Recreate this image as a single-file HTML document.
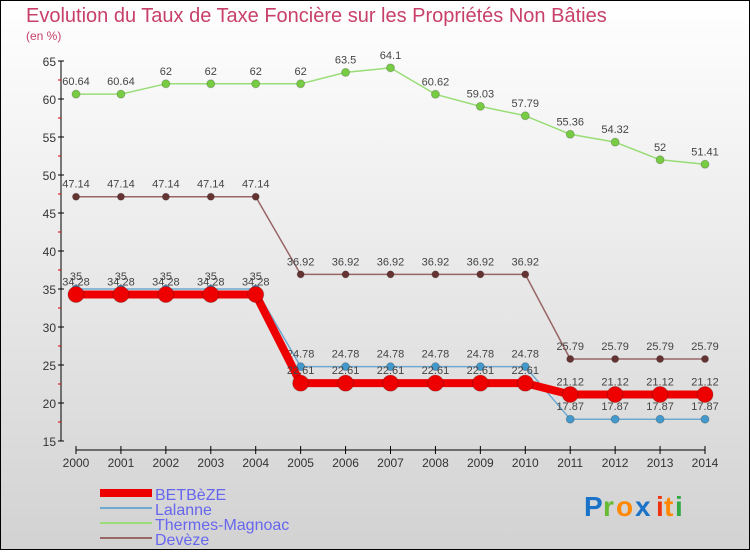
<!DOCTYPE html>
<html><head><meta charset="utf-8"><style>
body{margin:0;}
#c{width:750px;height:550px;position:relative;font-family:"Liberation Sans",sans-serif;}
svg text{font-family:"Liberation Sans",sans-serif;}
</style></head><body>
<div id="c">
<svg id="s" width="750" height="550" xmlns="http://www.w3.org/2000/svg">
<defs><linearGradient id="bg" x1="0" y1="0" x2="0" y2="1"><stop offset="0" stop-color="#ffffff"/><stop offset="1" stop-color="#d2d2d2"/></linearGradient></defs>
<rect x="0.5" y="0.5" width="749" height="549" fill="url(#bg)" stroke="#000"/>
<text x="26" y="22" font-size="20" fill="#c8406a">Evolution du Taux de Taxe Foncière sur les Propriétés Non Bâties</text>
<text x="26" y="40" font-size="12" fill="#c8406a">(en %)</text>
<g id="axes"></g><g id="series"></g>
<g>
<rect x="100" y="489" width="52" height="8" fill="#ee0000"/>
<text x="155" y="500" font-size="16" fill="#6666ee">BETBèZE</text>
<line x1="100" y1="508" x2="152" y2="508" stroke="#6fa8d0" stroke-width="2"/>
<text x="155" y="515" font-size="16" fill="#6666ee">Lalanne</text>
<line x1="100" y1="523" x2="152" y2="523" stroke="#99dd77" stroke-width="2"/>
<text x="155" y="530" font-size="16" fill="#6666ee">Thermes-Magnoac</text>
<line x1="100" y1="538" x2="152" y2="538" stroke="#996666" stroke-width="2"/>
<text x="155" y="545" font-size="16" fill="#6666ee">Devèze</text>
</g>
<g font-size="28" font-weight="bold">
<text x="584" y="516" fill="#1a73c8">P</text><text x="603" y="516" fill="#66bb33">r</text><text x="616" y="516" fill="#ff8800">o</text><text x="635" y="516" fill="#1a73c8">x</text><text x="656" y="516" fill="#ee3311">i</text><text x="664" y="516" fill="#ff8800">t</text><text x="675" y="516" fill="#33aa44">i</text>
</g>
</svg></div>
<script>
const years=["2000","2001","2002","2003","2004","2005","2006","2007","2008","2009","2010","2011","2012","2013","2014"];
const yTicks=[15,20,25,30,35,40,45,50,55,60,65];
const betbeze=[34.28,34.28,34.28,34.28,34.28,22.61,22.61,22.61,22.61,22.61,22.61,21.12,21.12,21.12,21.12];
const lalanne=[35,35,35,35,35,24.78,24.78,24.78,24.78,24.78,24.78,17.87,17.87,17.87,17.87];
const thermes=[60.64,60.64,62,62,62,62,63.5,64.1,60.62,59.03,57.79,55.36,54.32,52,51.41];
const deveze=[47.14,47.14,47.14,47.14,47.14,36.92,36.92,36.92,36.92,36.92,36.92,25.79,25.79,25.79,25.79];
const NS="http://www.w3.org/2000/svg";
const X=i=>76+i*(705-76)/(years.length-1);
const Y=v=>441-(v-15)*380/50;
function mk(p,t,a){const e=document.createElementNS(NS,t);for(const k in a)e.setAttribute(k,a[k]);p.appendChild(e);return e;}
const ax=document.getElementById('axes');
const yl=mk(ax,'line',{x1:61,y1:Y(65),x2:61,y2:Y(15),stroke:'#000'});


const xl=mk(ax,'line',{x1:76,y1:450,x2:705,y2:450,stroke:'#000'});


yTicks.forEach(v=>{mk(ax,'line',{x1:58,y1:Y(v),x2:64,y2:Y(v),stroke:'#000'});
 if(v<65)mk(ax,'line',{x1:58,y1:Y(v+2.5),x2:61,y2:Y(v+2.5),stroke:'#d00'});
 const t=mk(ax,'text',{x:56,y:Y(v)+5,'font-size':12,'text-anchor':'end',fill:'#333'});t.textContent=v;
 
 });
years.forEach((y,i)=>{mk(ax,'line',{x1:X(i),y1:446,x2:X(i),y2:454,stroke:'#000'});
 const t=mk(ax,'text',{x:X(i),y:467,'font-size':12,'text-anchor':'middle',fill:'#333'});t.textContent=y;
 
 });
const sg=document.getElementById('series');
function draw(name,data,color,w,r,dot){
 const g=mk(sg,'g',{});
 
 
 const pl=mk(g,'polyline',{points:data.map((v,i)=>X(i)+','+Y(v)).join(' '),fill:'none',stroke:color,'stroke-width':w,'stroke-linejoin':'round'});
 
 
 data.forEach((v,i)=>{const c=mk(g,'circle',{cx:X(i),cy:Y(v),r:r,fill:dot,stroke:'#0003'});
  
  
  const t=mk(g,'text',{x:X(i),y:Y(v)-9,'font-size':11,'text-anchor':'middle',fill:'#444'});t.textContent=String(v);
  
  });
}
draw('thermes-magnoac',thermes,'#99dd77',1.5,4,'#77cc44');
draw('deveze',deveze,'#996666',1.5,3.5,'#663333');
draw('lalanne',lalanne,'#6fa8d0',1.5,4,'#4499cc');
draw('betbeze',betbeze,'#ee0000',8,8,'#ee0000');
</script>
</body></html>
